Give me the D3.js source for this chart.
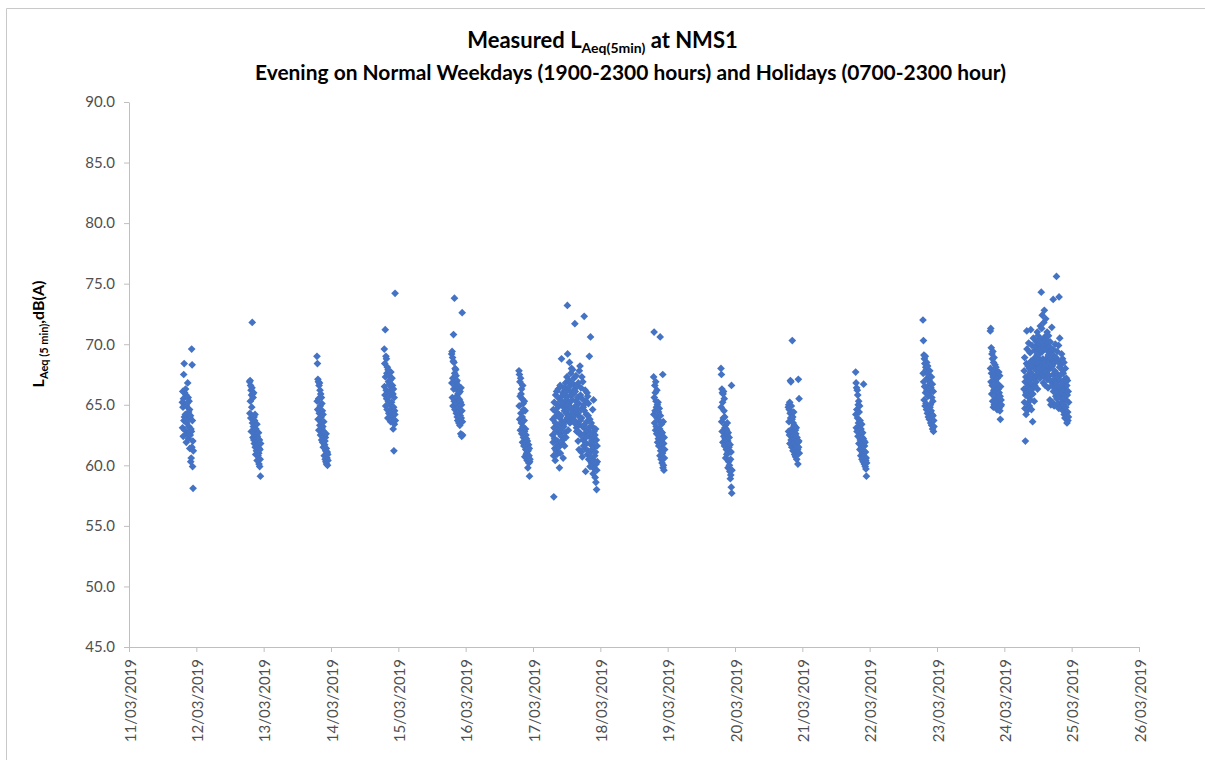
<!DOCTYPE html>
<html>
<head>
<meta charset="utf-8">
<script src="https://cdn.jsdelivr.net/npm/d3@7"></script>
<style>
    body { margin: 0; background: #fff; }
    text { font-family: Lato, 'Open Sans', sans-serif; }
    .axis text { fill: #4f4f4f; font-size: 15px; }
    .axis path, .axis line { stroke: #bfbfbf; }
</style>
</head>
<body>
<script>
// tick labels
const dateLabels = ['11/03/2019', '12/03/2019', '13/03/2019', '14/03/2019', '15/03/2019', '16/03/2019',
    '17/03/2019', '18/03/2019', '19/03/2019', '20/03/2019', '21/03/2019', '22/03/2019',
    '23/03/2019', '24/03/2019', '25/03/2019', '26/03/2019']
const yTicks = [45, 50, 55, 60, 65, 70, 75, 80, 85, 90]

// evening readings, one every 5 min from 19:00
const mar11 = [65.2,63.1,66.1,64.8,62.4,65.5,67.5,63.7,68.4,64.0,66.0,62.9,65.0,64.2,66.3,63.6,65.8,61.9,64.9,63.5,65.1,62.6,64.0,66.8,63.8,65.6,62.2,64.4,63.2,65.3,62.7,64.6,61.4,63.9,62.5,64.1,60.3,63.0,60.6,62.8,69.6,61.5,68.3,63.7,59.9,62.0,58.1,61.2]
const mar12 = [66.9,64.3,67.0,65.3,66.6,63.9,66.2,62.8,65.8,64.8,66.4,71.8,63.5,65.9,62.3,65.6,63.2,66.0,62.1,64.0,61.8,63.7,62.5,64.2,61.5,62.9,60.9,63.0,62.6,61.2,62.0,63.4,60.4,62.4,61.6,62.2,60.8,61.9,62.7,61.0,60.1,61.4,62.1,59.9,61.3,60.5,59.1,61.8]
const mar13 = [69.0,65.3,68.4,64.6,67.1,63.8,66.9,65.5,62.9,66.6,64.3,66.8,63.3,66.2,64.9,62.5,65.9,63.6,64.0,65.6,62.1,65.1,63.0,64.5,61.9,63.2,64.2,61.5,62.8,63.6,62.4,60.8,62.7,61.7,62.0,60.5,62.3,61.2,60.3,62.6,61.4,60.1,61.0,60.6,61.1,60.0,60.9,60.4]
const mar14 = [69.6,66.5,68.4,65.8,71.2,67.3,64.9,69.0,66.2,68.8,65.5,67.6,64.6,68.1,66.0,63.9,67.9,65.3,66.9,64.3,67.4,65.7,66.7,64.0,67.0,65.0,66.1,63.6,67.7,64.4,66.4,65.2,63.8,67.2,64.7,66.6,64.1,65.9,63.0,66.3,64.8,61.2,65.6,63.4,64.5,64.2,74.2,63.7]
const mar15 = [69.2,66.8,69.4,65.6,68.9,67.2,64.9,68.6,70.8,66.3,68.5,65.3,73.8,67.6,64.6,68.0,66.5,67.9,65.1,67.4,64.3,66.9,65.7,67.0,64.0,66.2,63.7,65.9,66.6,64.8,65.5,63.5,66.0,64.4,65.4,63.3,66.1,64.1,65.2,62.6,66.4,63.9,65.0,62.4,64.5,72.6,63.6,62.5]
const mar16 = [67.8,64.9,67.5,63.8,66.9,65.7,62.9,67.2,64.3,65.9,63.5,66.3,62.6,65.5,64.0,61.9,66.6,63.2,65.1,62.3,64.6,61.6,63.7,65.3,62.8,60.7,64.5,62.1,63.0,61.3,62.5,60.9,62.2,61.0,61.8,60.4,62.0,61.5,59.8,61.2,60.6,61.7,60.2,60.8,61.4,59.1,60.3,60.5]
const mar18 = [67.3,64.2,71.0,65.6,63.5,66.6,64.5,66.0,62.9,66.9,65.3,63.2,64.8,62.6,66.2,63.9,65.0,61.9,64.0,65.2,62.2,64.4,61.6,63.7,64.7,62.4,63.0,60.8,70.6,64.1,61.2,62.8,60.5,63.4,62.0,61.4,60.2,62.7,61.0,67.5,59.8,63.6,60.0,61.8,59.6,62.3,60.6,61.3]
const mar19 = [68.0,64.8,67.5,63.6,66.3,62.8,66.0,65.2,61.9,65.9,63.9,66.1,62.4,64.5,65.5,61.6,64.0,63.1,62.2,63.3,60.6,62.6,63.0,61.3,62.9,60.9,62.5,63.5,61.0,62.0,59.8,62.7,61.8,60.3,61.5,62.3,60.0,61.2,59.5,61.7,58.9,60.5,59.2,61.1,58.2,66.6,57.7,59.6]
const mar20 = [64.8,62.8,65.0,63.6,64.6,62.5,65.2,61.8,64.3,67.0,63.9,66.9,62.1,64.9,63.0,61.5,63.8,70.3,62.7,64.0,61.2,63.5,62.4,64.4,61.7,63.3,62.2,60.9,63.2,61.9,62.9,60.7,62.6,61.4,63.1,61.6,60.5,62.3,61.1,62.0,61.3,60.1,61.9,67.1,61.5,62.0,65.5,61.0]
const mar21 = [67.7,64.2,66.8,63.1,66.4,64.6,62.8,66.2,63.9,65.8,62.4,65.0,63.5,65.3,61.8,64.4,62.9,64.9,61.3,63.7,62.1,63.3,60.8,63.0,62.6,61.5,63.4,60.5,62.3,61.0,62.7,61.7,60.3,62.2,66.7,61.2,62.0,60.1,61.6,60.7,61.9,59.9,61.1,60.4,59.7,60.6,59.1,60.2]
const mar22 = [72.0,67.6,70.3,66.9,69.1,65.4,68.8,66.5,68.4,64.9,69.0,66.0,68.1,65.1,67.9,64.6,68.5,66.2,67.2,64.3,68.2,65.7,67.5,64.0,66.6,65.9,67.0,63.8,66.3,67.8,64.8,66.8,65.0,63.5,66.4,64.5,67.3,63.3,65.6,64.2,66.7,63.0,65.3,64.1,66.1,62.8,63.7,63.2]
const mar23 = [71.1,68.0,71.3,66.9,69.7,67.6,65.9,69.2,66.6,68.8,65.3,69.4,67.3,64.8,68.5,66.2,68.9,65.0,67.9,66.4,68.3,65.6,67.0,64.9,68.1,66.1,67.5,65.2,66.8,64.6,67.2,65.8,66.7,64.8,66.3,65.5,67.7,64.7,66.0,65.1,67.4,64.5,65.7,63.8,66.5,64.9,65.4,65.0]

// holiday readings, one every 5 min from 07:00
const mar17 = [
    62.5,63.8,61.9,64.6,60.8,57.4,63.1,65.2,62.2,61.4,64.0,60.4,
    63.5,65.8,62.8,61.2,64.4,66.1,60.9,63.0,65.0,62.0,61.7,64.8,
    66.3,63.3,61.5,64.2,65.5,59.8,62.6,63.9,66.6,61.0,62.9,65.3,
    64.1,62.4,68.8,65.7,63.6,61.8,64.9,66.0,62.1,60.6,63.4,65.1,
    63.2,66.4,64.5,61.6,65.9,62.7,64.7,66.8,63.7,62.3,65.4,64.3,
    65.6,67.3,63.9,73.2,69.2,64.6,66.2,62.9,65.0,67.0,64.0,66.5,
    68.5,65.2,63.5,66.9,64.8,63.6,67.6,65.8,64.2,68.0,63.9,66.0,
    65.4,67.9,64.4,63.7,66.7,63.8,65.9,67.2,64.1,64.6,66.3,71.7,
    63.6,66.1,64.9,63.4,67.4,65.3,63.1,62.8,64.7,66.6,62.8,65.6,
    64.3,62.0,66.8,63.4,65.1,61.3,67.8,64.0,62.7,68.2,63.7,65.8,
    62.5,66.4,64.6,61.1,63.9,67.3,65.5,60.7,63.2,66.9,62.1,64.8,
    61.6,65.0,63.3,72.3,64.5,62.6,61.4,66.2,63.0,59.5,62.3,65.3,
    64.2,61.8,63.6,66.0,62.9,60.9,65.7,61.2,64.1,65.1,60.5,63.1,
    62.4,69.0,61.0,63.8,59.9,62.7,70.6,60.6,61.7,63.5,60.2,62.0,
    61.3,63.2,60.0,64.6,62.2,59.3,61.9,65.4,60.4,62.8,59.7,61.5,
    60.8,62.5,59.0,61.1,63.0,58.6,60.1,62.1,58.0,59.6,61.6,60.3]
const mar24 = [
    66.3,67.8,65.2,68.9,64.7,66.9,62.0,65.8,67.3,64.2,66.0,68.4,
    71.1,69.6,66.5,65.1,67.4,68.2,64.6,66.8,70.1,65.6,67.0,64.9,
    68.0,66.2,69.3,67.7,65.4,71.2,68.6,66.7,64.6,67.2,69.9,65.9,
    67.5,63.6,65.9,68.3,70.5,66.4,68.8,67.1,65.3,69.5,66.6,68.1,
    69.8,67.9,68.4,68.5,66.9,70.2,68.7,67.4,69.1,71.0,66.3,68.9,
    70.7,68.4,69.5,70.3,67.6,69.8,69.2,70.0,68.1,67.2,71.5,69.6,
    68.6,70.4,74.3,67.8,71.3,68.2,72.4,69.4,67.5,68.8,70.1,66.8,
    69.7,71.8,68.0,72.8,67.3,70.6,68.5,66.6,69.9,72.1,68.7,67.7,
    70.3,68.3,69.5,71.0,67.1,68.9,70.0,66.4,69.1,70.7,67.9,68.6,
    67.4,69.8,68.1,65.4,70.2,68.4,67.0,65.0,69.3,66.9,68.8,71.4,
    66.6,68.2,65.2,69.6,67.5,73.7,66.1,68.7,67.0,64.9,69.0,67.8,
    68.5,66.3,70.0,67.2,65.7,68.9,66.8,75.6,67.6,65.5,69.4,66.0,
    67.3,65.1,68.6,66.5,69.9,64.7,73.9,66.2,68.1,70.5,65.8,67.0,
    66.4,68.3,65.6,67.5,64.9,69.2,66.0,67.9,65.3,68.8,66.7,64.5,
    67.6,65.0,66.9,68.5,64.2,66.2,67.1,63.9,65.7,68.0,66.5,64.8,
    65.4,67.2,64.1,66.6,63.5,65.8,67.0,64.4,63.7,66.1,64.0,65.2]

const runs = [
    { date: '11/03/2019', start: 19, values: mar11 },
    { date: '12/03/2019', start: 19, values: mar12 },
    { date: '13/03/2019', start: 19, values: mar13 },
    { date: '14/03/2019', start: 19, values: mar14 },
    { date: '15/03/2019', start: 19, values: mar15 },
    { date: '16/03/2019', start: 19, values: mar16 },
    { date: '17/03/2019', start: 7, values: mar17 },
    { date: '18/03/2019', start: 19, values: mar18 },
    { date: '19/03/2019', start: 19, values: mar19 },
    { date: '20/03/2019', start: 19, values: mar20 },
    { date: '21/03/2019', start: 19, values: mar21 },
    { date: '22/03/2019', start: 19, values: mar22 },
    { date: '23/03/2019', start: 19, values: mar23 },
    { date: '24/03/2019', start: 7, values: mar24 }
]

const w = 1205
const h = 760
const parse = d3.timeParse('%d/%m/%Y')
const tickDates = dateLabels.map(parse)

// flatten to points
const points = []
runs.forEach(r => {
    const day = parse(r.date)
    r.values.forEach((v, i) => {
        points.push({ t: d3.timeMinute.offset(day, r.start * 60 + i * 5), v: v })
    })
})

const xScale = d3.scaleTime()
    .domain([tickDates[0], tickDates[tickDates.length - 1]])
    .range([129, 1139])

const yScale = d3.scaleLinear()
    .domain([45, 90])
    .range([647, 102])

const svg = d3.select('body')
    .append('svg')
    .attr('width', w)
    .attr('height', h)

// chart frame (only top and left edges show)
svg.append('path')
    .attr('d', `M6.5,${h} V8.5 H${w}`)
    .attr('fill', 'none')
    .attr('stroke', '#c9c9c9')

// title
const t1 = svg.append('text')
    .attr('x', w / 2)
    .attr('y', 48)
    .attr('text-anchor', 'middle')
    .style('font-weight', 'bold')
    .style('font-size', '22px')
    .attr('fill', '#000')
t1.append('tspan').text('Measured L')
t1.append('tspan').attr('dy', 5).style('font-size', '14px').text('Aeq(5min)')
t1.append('tspan').attr('dy', -5).text(' at NMS1')

svg.append('text')
    .attr('x', w / 2 + 28)
    .attr('y', 80)
    .attr('text-anchor', 'middle')
    .style('font-weight', 'bold')
    .style('font-size', '21px')
    .attr('textLength', 751)
    .attr('lengthAdjust', 'spacingAndGlyphs')
    .text('Evening on Normal Weekdays (1900-2300 hours) and Holidays (0700-2300 hour)')

// y axis
const yAxis = d3.axisLeft(yScale)
    .tickValues(yTicks)
    .tickFormat(d3.format('.1f'))
    .tickSize(5)
    .tickSizeOuter(0)
    .tickPadding(9)

svg.append('g')
    .attr('class', 'axis')
    .attr('transform', 'translate(129,0)')
    .call(yAxis)

// x axis with rotated labels
const xAxis = d3.axisBottom(xScale)
    .tickValues(tickDates)
    .tickFormat(d3.timeFormat('%d/%m/%Y'))
    .tickSize(5)
    .tickSizeOuter(0)

svg.append('g')
    .attr('class', 'axis')
    .attr('transform', 'translate(0,647)')
    .call(xAxis)
    .selectAll('text')
    .attr('transform', 'rotate(-90)')
    .attr('text-anchor', 'end')
    .attr('x', -12)
    .attr('y', 0)
    .attr('dy', '0.4em')

// y axis title
const yt = svg.append('text')
    .attr('transform', 'translate(44,334) rotate(-90)')
    .attr('text-anchor', 'middle')
    .style('font-weight', 'bold')
    .style('font-size', '16px')
    .attr('fill', '#000')
yt.append('tspan').text('L')
yt.append('tspan').attr('dy', 4).style('font-size', '11px').text('Aeq (5 min)')
yt.append('tspan').attr('dy', -4).text(',dB(A)')

// diamond markers
const diamond = {
    draw(ctx, size) {
        const r = Math.sqrt(size / 2)
        ctx.moveTo(0, -r)
        ctx.lineTo(r, 0)
        ctx.lineTo(0, r)
        ctx.lineTo(-r, 0)
        ctx.closePath()
    }
}

svg.append('g')
    .selectAll('path')
    .data(points)
    .enter()
    .append('path')
    .attr('d', d3.symbol().type(diamond).size(30))
    .attr('transform', d => `translate(${xScale(d.t)},${yScale(d.v)})`)
    .attr('fill', '#4472c4')
</script>
</body>
</html>
